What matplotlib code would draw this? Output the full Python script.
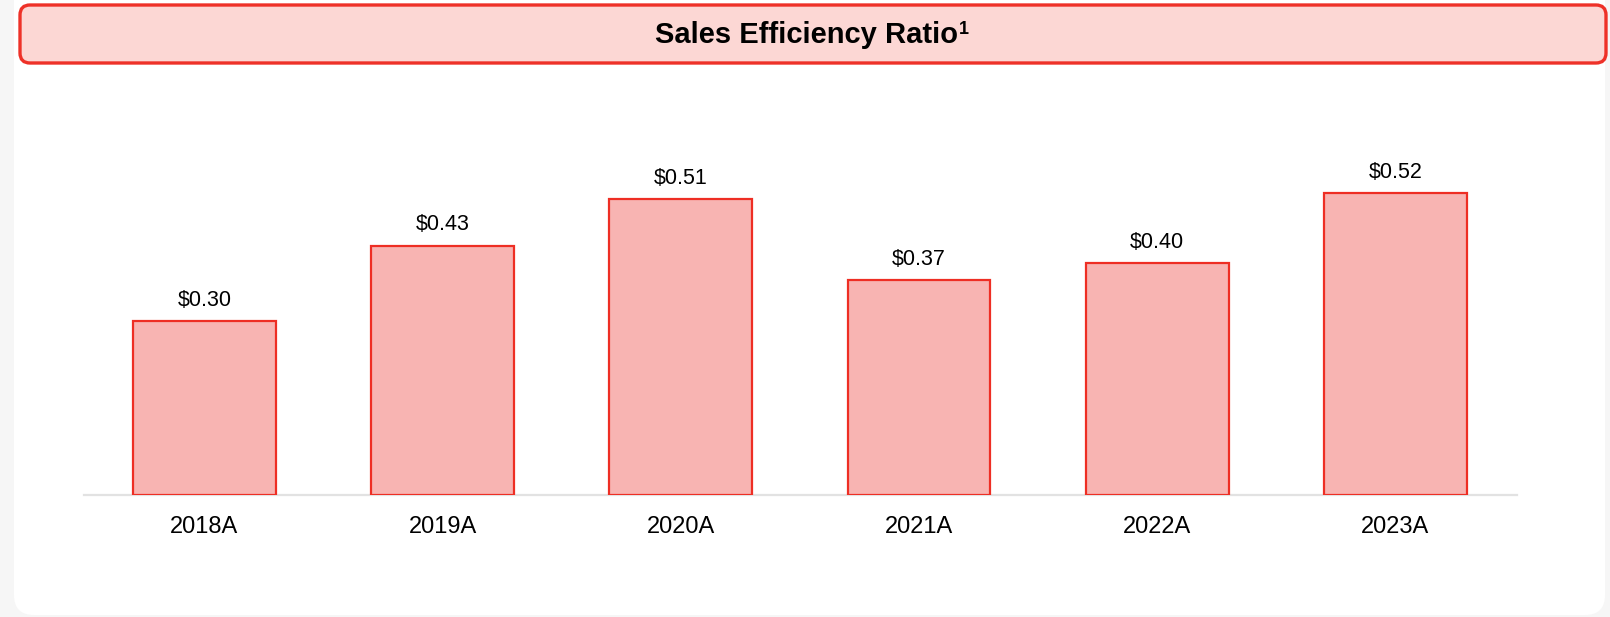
import matplotlib
matplotlib.use("Agg")
import matplotlib.pyplot as plt
from matplotlib.patches import FancyBboxPatch

# data
years = ["2018A", "2019A", "2020A", "2021A", "2022A", "2023A"]
ratio = [0.30, 0.43, 0.51, 0.37, 0.40, 0.52]

plt.rcParams['font.family'] = ['Liberation Sans', 'DejaVu Sans']

W, H = 1610, 617
fig = plt.figure(figsize=(W / 100, H / 100), dpi=100)
fig.patch.set_facecolor("#f6f6f6")

# background card + title box, drawn in pixel coords
bg = fig.add_axes([0, 0, 1, 1])
bg.set_xlim(0, W)
bg.set_ylim(H, 0)
bg.axis("off")
card = FancyBboxPatch((14, -30), 1591, 645, boxstyle="round,pad=0,rounding_size=20",
                      facecolor="white", edgecolor="none")
bg.add_patch(card)
title_box = FancyBboxPatch((20, 5), 1586, 58, boxstyle="round,pad=0,rounding_size=10",
                           facecolor="#fcd7d4", edgecolor="#ee3128", linewidth=2.4)
bg.add_patch(title_box)
bg.text(806, 35, "Sales Efficiency Ratio", ha="center", va="center",
        fontsize=21, fontweight="bold", color="black")
bg.text(959, 29, "1", ha="left", va="center",
        fontsize=13, fontweight="bold", color="black")

# bar chart
base_y = 495
top_y = base_y - 0.6 * 580
ax = fig.add_axes([84 / W, 1 - base_y / H, (1517 - 84) / W, (base_y - top_y) / H])
ax.set_facecolor("none")
x = range(len(years))
bars = ax.bar(x, ratio, width=0.6, color="#f8b4b2", edgecolor="#ee2e24", linewidth=1.6)
ax.set_xlim(-0.505, 5.51)
ax.set_ylim(0, 0.6)
for b, v in zip(bars, ratio):
    ax.annotate("$%.2f" % v, (b.get_x() + b.get_width() / 2, v), xytext=(0, 7.5),
                textcoords="offset points", ha="center", va="bottom", fontsize=15.5)

ax.set_xticks(list(x))
ax.set_xticklabels(years, fontsize=17)
ax.tick_params(axis="x", length=0, pad=15)
ax.set_yticks([])
for s in ["top", "left", "right"]:
    ax.spines[s].set_visible(False)
ax.spines["bottom"].set_color("#e2e2e2")
ax.spines["bottom"].set_linewidth(1.6)
ax.spines["bottom"].set_zorder(0)

fig.savefig("out.png", dpi=100, facecolor=fig.get_facecolor())
